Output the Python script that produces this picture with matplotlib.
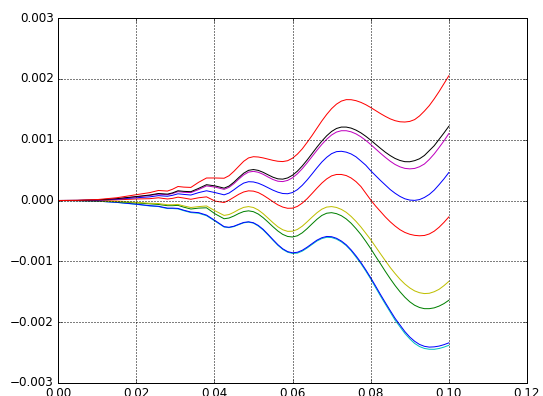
import matplotlib
matplotlib.use("Agg")
import matplotlib.pyplot as plt
from matplotlib.ticker import FormatStrFormatter, FuncFormatter

plt.style.use("classic")

# x positions (shared by all series)
x = [0, 0.005, 0.01, 0.015, 0.02, 0.0235, 0.0257, 0.0268, 0.028, 0.0293,
     0.0307, 0.0322, 0.034, 0.036, 0.038, 0.0402,
     0.0425, 0.04375, 0.045, 0.04625, 0.0475, 0.04875, 0.05, 0.05125, 0.0525,
     0.05375, 0.055, 0.05625, 0.0575, 0.05875, 0.06, 0.06125, 0.0625, 0.06375,
     0.065, 0.06625, 0.0675, 0.06875, 0.07, 0.07125, 0.0725, 0.07375, 0.075,
     0.07625, 0.0775, 0.07875, 0.08, 0.08125, 0.0825, 0.08375, 0.085, 0.08625,
     0.0875, 0.08875, 0.09, 0.09125, 0.0925, 0.09375, 0.095, 0.09625, 0.0975,
     0.09875, 0.1]

# series values, in units of 1e-3
red_top = [0, 0.003, 0.015, 0.045, 0.095, 0.13, 0.165, 0.16, 0.155, 0.185,
           0.23, 0.22, 0.215, 0.30, 0.37, 0.37,
           0.366, 0.407, 0.479, 0.562, 0.644, 0.700, 0.72, 0.715, 0.70, 0.68,
           0.66, 0.645, 0.64, 0.654, 0.695, 0.762, 0.849, 0.956, 1.068, 1.188,
           1.307, 1.415, 1.51, 1.584, 1.634, 1.658, 1.657, 1.641, 1.613, 1.575,
           1.529, 1.479, 1.429, 1.383, 1.342, 1.312, 1.294, 1.29, 1.30, 1.33,
           1.39, 1.47, 1.56, 1.67, 1.79, 1.92, 2.05]
black = [0, 0.002, 0.01, 0.03, 0.065, 0.09, 0.115, 0.11, 0.105, 0.125,
         0.16, 0.15, 0.145, 0.20, 0.26, 0.24,
         0.203, 0.237, 0.30, 0.377, 0.448, 0.496, 0.509, 0.495, 0.463, 0.422,
         0.383, 0.356, 0.351, 0.371, 0.415, 0.482, 0.568, 0.666, 0.771, 0.877,
         0.976, 1.064, 1.135, 1.184, 1.207, 1.207, 1.19, 1.157, 1.112, 1.056,
         0.993, 0.925, 0.858, 0.794, 0.738, 0.691, 0.658, 0.638, 0.637, 0.655,
         0.686, 0.74, 0.82, 0.90, 1.005, 1.11, 1.22]
magenta = [0, 0.002, 0.009, 0.027, 0.06, 0.083, 0.105, 0.10, 0.095, 0.115,
           0.145, 0.135, 0.13, 0.18, 0.24, 0.22,
           0.183, 0.216, 0.276, 0.351, 0.42, 0.467, 0.479, 0.464, 0.43, 0.386,
           0.345, 0.317, 0.311, 0.33, 0.373, 0.439, 0.523, 0.619, 0.722, 0.825,
           0.922, 1.007, 1.077, 1.125, 1.147, 1.147, 1.129, 1.095, 1.047, 0.988,
           0.921, 0.849, 0.777, 0.709, 0.646, 0.592, 0.553, 0.528, 0.52, 0.527,
           0.555, 0.60, 0.675, 0.765, 0.87, 0.98, 1.10]
blue_top = [0, 0.001, 0.006, 0.02, 0.045, 0.06, 0.08, 0.075, 0.07, 0.085,
            0.11, 0.10, 0.09, 0.13, 0.16, 0.13,
            0.093, 0.122, 0.176, 0.236, 0.286, 0.309, 0.305, 0.284, 0.25, 0.21,
            0.17, 0.137, 0.115, 0.111, 0.131, 0.178, 0.25, 0.338, 0.436, 0.537,
            0.632, 0.71, 0.77, 0.803, 0.809, 0.795, 0.765, 0.718, 0.65, 0.58,
            0.49, 0.41, 0.33, 0.255, 0.18, 0.119, 0.067, 0.028, 0.007, 0.002,
            0.015, 0.05, 0.10, 0.17, 0.26, 0.355, 0.46]
red_mid = [0, 0.0, 0.003, 0.01, 0.025, 0.03, 0.045, 0.035, 0.025, 0.035,
           0.055, 0.04, 0.02, 0.045, 0.06, -0.01,
           -0.033, 0.005, 0.053, 0.102, 0.14, 0.159, 0.154, 0.13, 0.087, 0.035,
           -0.02, -0.071, -0.108, -0.128, -0.126, -0.097, -0.043, 0.03, 0.115, 0.203,
           0.286, 0.355, 0.405, 0.428, 0.428, 0.41, 0.37, 0.31, 0.23, 0.12,
           0.01, -0.09, -0.18, -0.27, -0.35, -0.42, -0.48, -0.525, -0.555, -0.573,
           -0.58, -0.575, -0.55, -0.505, -0.44, -0.36, -0.27]
yellow = [0, -0.001, -0.005, -0.015, -0.03, -0.045, -0.05, -0.06, -0.07, -0.07,
          -0.065, -0.09, -0.115, -0.10, -0.09, -0.17,
          -0.245, -0.231, -0.194, -0.149, -0.113, -0.10, -0.115, -0.156, -0.217, -0.29,
          -0.364, -0.432, -0.481, -0.507, -0.505, -0.476, -0.422, -0.35, -0.274, -0.202,
          -0.143, -0.108, -0.10, -0.114, -0.146, -0.194, -0.262, -0.343, -0.435, -0.538,
          -0.643, -0.759, -0.875, -0.989, -1.101, -1.201, -1.294, -1.373, -1.437, -1.486,
          -1.516, -1.53, -1.525, -1.50, -1.46, -1.40, -1.33]
green = [0, -0.001, -0.006, -0.02, -0.04, -0.055, -0.065, -0.075, -0.085, -0.085,
         -0.08, -0.11, -0.14, -0.125, -0.12, -0.22,
         -0.30, -0.288, -0.255, -0.214, -0.182, -0.17, -0.184, -0.223, -0.283, -0.355,
         -0.431, -0.501, -0.557, -0.591, -0.60, -0.58, -0.531, -0.462, -0.384, -0.309,
         -0.246, -0.209, -0.20, -0.216, -0.25, -0.303, -0.374, -0.462, -0.559, -0.671,
         -0.789, -0.916, -1.039, -1.165, -1.285, -1.398, -1.50, -1.59, -1.665, -1.722,
         -1.759, -1.778, -1.778, -1.765, -1.736, -1.695, -1.64]
cyan = [0, -0.002, -0.01, -0.031, -0.063, -0.09, -0.1, -0.116, -0.132, -0.132,
        -0.138, -0.168, -0.199, -0.21, -0.25, -0.34,
        -0.436, -0.446, -0.429, -0.397, -0.367, -0.356, -0.372, -0.42, -0.485, -0.567,
        -0.653, -0.736, -0.804, -0.85, -0.87, -0.865, -0.832, -0.781, -0.723, -0.666,
        -0.626, -0.605, -0.609, -0.635, -0.68, -0.742, -0.826, -0.93, -1.038, -1.16,
        -1.289, -1.43, -1.569, -1.703, -1.834, -1.967, -2.076, -2.185, -2.274, -2.349,
        -2.401, -2.432, -2.445, -2.446, -2.433, -2.41, -2.38]
blue_bottom = [0, -0.002, -0.01, -0.03, -0.06, -0.085, -0.095, -0.11, -0.125, -0.125,
               -0.13, -0.16, -0.19, -0.20, -0.24, -0.33,
               -0.43, -0.44, -0.423, -0.391, -0.361, -0.35, -0.366, -0.41, -0.475, -0.557,
               -0.643, -0.726, -0.794, -0.84, -0.86, -0.851, -0.818, -0.767, -0.709, -0.652,
               -0.612, -0.591, -0.595, -0.621, -0.666, -0.728, -0.812, -0.91, -1.018, -1.14,
               -1.269, -1.405, -1.544, -1.678, -1.809, -1.937, -2.046, -2.155, -2.244, -2.314,
               -2.366, -2.397, -2.41, -2.406, -2.393, -2.37, -2.34]

x_ticks = [0.00, 0.02, 0.04, 0.06, 0.08, 0.10, 0.12]
y_ticks = [-0.003, -0.002, -0.001, 0.000, 0.001, 0.002, 0.003]

series = [
    (cyan, (0, 0.75, 0.75)),
    (blue_bottom, (0, 0, 1)),
    (green, (0, 0.5, 0)),
    (yellow, (0.75, 0.75, 0)),
    (red_mid, (1, 0, 0)),
    (blue_top, (0, 0, 1)),
    (magenta, (0.75, 0, 0.75)),
    (black, (0, 0, 0)),
    (red_top, (1, 0, 0)),
]

W, H = 543, 396
fig = plt.figure(figsize=(W / 72, H / 72), dpi=72, facecolor="white")
ax = fig.add_axes([58 / W, (H - 383) / H, (527 - 58) / W, (383 - 18) / H])
ax.set_facecolor("white")

for vals, col in series:
    ax.plot(x, [v * 1e-3 for v in vals], color=col, lw=1.0)

ax.set_xlim(0, 0.12)
ax.set_ylim(-0.003, 0.003)
ax.set_xticks(x_ticks)
ax.set_yticks(y_ticks)
ax.xaxis.set_major_formatter(FormatStrFormatter("%.2f"))
ax.yaxis.set_major_formatter(FuncFormatter(
    lambda v, p: ("%.3f" % v).replace("-", "\u2212") if abs(v) > 1e-12 else "0.000"))
ax.grid(True, color="black", linestyle=(0, (1, 2)), linewidth=1.0)
ax.tick_params(labelsize=12, direction="in", top=True, right=True)

fig.savefig("out.png", dpi=72, facecolor="white")
